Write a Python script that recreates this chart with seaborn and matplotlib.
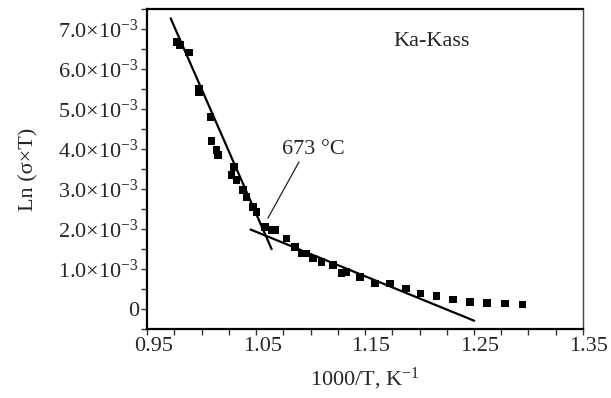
import numpy as np
import pandas as pd
import seaborn as sns
import matplotlib
matplotlib.use('Agg')
from matplotlib import pyplot as plt
from matplotlib.transforms import ScaledTranslation

# measured points (1000/T, Ln(sigma*T) in units of 1e-3)
inv_t = [0.9775, 0.9800, 0.9886, 0.9977, 0.9977, 1.0082, 1.0091, 1.0137, 1.0152,
         1.0275, 1.0296, 1.0321, 1.0381, 1.0413, 1.0473, 1.0504, 1.0580, 1.0642,
         1.0672, 1.0780, 1.0856, 1.0917, 1.0963, 1.1024, 1.1101, 1.1208, 1.1285,
         1.1331, 1.1453, 1.1590, 1.1728, 1.1875, 1.2010, 1.2157, 1.2309, 1.2462,
         1.2621, 1.2784, 1.2946]
ln_st = [6.68, 6.60, 6.42, 5.52, 5.43, 4.81, 4.21, 3.98, 3.85,
         3.35, 3.56, 3.23, 2.98, 2.81, 2.56, 2.43, 2.06, 1.98,
         1.98, 1.77, 1.56, 1.39, 1.39, 1.27, 1.18, 1.10, 0.91,
         0.93, 0.81, 0.64, 0.64, 0.52, 0.39, 0.33, 0.24, 0.18,
         0.16, 0.14, 0.12]

# fitted lines (end points)
fit_hi_x = [0.9715, 1.0642]
fit_hi_y = [7.27, 1.50]
fit_lo_x = [1.0449, 1.2502]
fit_lo_y = [1.99, -0.29]

y_ticks = [0, 1, 2, 3, 4, 5, 6, 7]
y_labels = ['0'] + [f'{v:.1f}×10$^{{-3}}$' for v in y_ticks[1:]]
x_ticks = [0.95, 1.05, 1.15, 1.25, 1.35]

df = pd.DataFrame({'x': inv_t, 'y': np.array(ln_st) * 1e-3})

sns.set_style('ticks')
plt.rcParams['font.family'] = ['Liberation Serif', 'DejaVu Serif']
plt.rcParams['mathtext.fontset'] = 'custom'
plt.rcParams['mathtext.rm'] = 'Liberation Serif'
plt.rcParams['mathtext.it'] = 'Liberation Serif:italic'

fig = plt.figure(figsize=(6.11, 3.98), dpi=100)
ax = fig.add_axes([0.241, 0.173, 0.713, 0.804])

sns.scatterplot(data=df, x='x', y='y', marker='s', s=30, color='black',
                edgecolor='none', ax=ax, zorder=3)
sns.lineplot(x=fit_hi_x, y=np.array(fit_hi_y) * 1e-3, color='black', lw=1.6, ax=ax)
sns.lineplot(x=fit_lo_x, y=np.array(fit_lo_y) * 1e-3, color='black', lw=1.6, ax=ax)

ax.set_xlim(0.95, 1.35)
ax.set_ylim(-0.5e-3, 7.5e-3)
ax.set_xticks(np.arange(0.95, 1.3501, 0.025), minor=True)
ax.set_xticks(x_ticks)
ax.set_xticklabels([f'{v:.2f}' for v in x_ticks])
ax.set_yticks(np.arange(-0.5e-3, 7.51e-3, 0.5e-3), minor=True)
ax.set_yticks(np.array(y_ticks) * 1e-3)
ax.set_yticklabels(y_labels)
ax.tick_params(which='both', direction='out', length=4, width=1, color='#333333',
               labelsize=16, pad=2)

# the original has its x labels nudged a little to the right
shift = ScaledTranslation(6 / 100, 0, fig.dpi_scale_trans)
for lbl in ax.get_xticklabels():
    lbl.set_transform(lbl.get_transform() + shift)

for side in ['left', 'bottom', 'top']:
    ax.spines[side].set_linewidth(1.6)
    ax.spines[side].set_color('black')
ax.spines['right'].set_linewidth(1.0)
ax.spines['right'].set_color('#444444')

ax.set_xlabel('1000/T, K$^{-1}$', fontsize=16, labelpad=7)
ax.set_ylabel('Ln (σ×T)', fontsize=16, labelpad=14)

ax.text(1.1756, 6.7e-3, 'Ka-Kass', fontsize=16, va='center', ha='left')
ax.annotate('673 °C', xy=(1.0608, 2.275e-3), xytext=(1.0737, 4.0e-3),
            fontsize=16, va='center', ha='left',
            arrowprops=dict(arrowstyle='-', color='#222222', lw=0.9,
                            shrinkA=0, shrinkB=0, relpos=(0.3, 0.0)))

fig.savefig('out.png', dpi=100)
